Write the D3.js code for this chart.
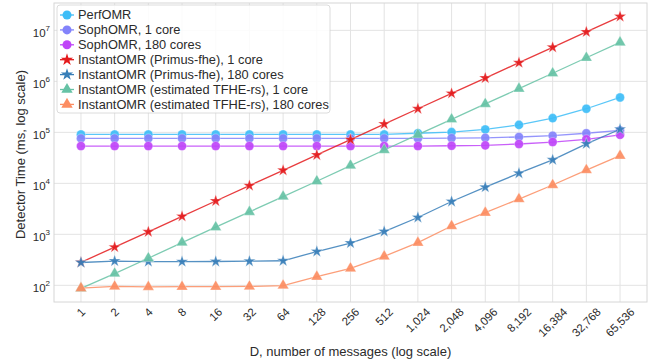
<!DOCTYPE html>
<html>
<head>
<meta charset="utf-8">
<script src="https://cdn.jsdelivr.net/npm/d3@7"></script>
<style>
  body { margin: 0; background: #fff; }
  text { font-family: Arial, "Liberation Sans", sans-serif; fill: #2b2b2b; }
</style>
</head>
<body>
<div id="chart"></div>
<script>
// number of messages D (x axis)
var messages = [1, 2, 4, 8, 16, 32, 64, 128, 256, 512, 1024, 2048, 4096, 8192, 16384, 32768, 65536];

// detector time in ms, one array per series
var perfOMR = [91000, 91000, 91000, 91000, 91000, 91000, 91000, 91000, 91000, 91000, 96000, 101000, 114000, 140000, 190000, 290000, 483000];
var sophOMR1 = [76000, 76000, 76000, 76000, 76000, 76000, 76000, 76000, 76000, 76000, 76000, 77000, 78000, 81000, 86000, 96000, 109000];
var sophOMR180 = [53800, 53800, 53800, 53800, 53800, 53800, 53800, 53800, 53800, 53800, 53800, 54500, 55500, 59000, 64500, 73000, 89500];
var primus1 = [283, 560, 1120, 2250, 4500, 9000, 18000, 36000, 72000, 145000, 290000, 580000, 1160000, 2320000, 4650000, 9300000, 18600000];
var primus180 = [280, 299, 291, 291, 293, 297, 303, 460, 673, 1135, 2140, 4400, 8400, 15800, 28900, 59400, 115000];
var tfhe1 = [87, 170, 340, 690, 1380, 2750, 5500, 11000, 22300, 45000, 90000, 180000, 360000, 720000, 1440000, 2900000, 5800000];
var tfhe180 = [88, 95, 93, 94, 94, 95, 99, 148, 215, 370, 687, 1455, 2660, 4920, 9270, 18200, 34800];

var seriesNames = [
  "PerfOMR",
  "SophOMR, 1 core",
  "SophOMR, 180 cores",
  "InstantOMR (Primus-fhe), 1 core",
  "InstantOMR (Primus-fhe), 180 cores",
  "InstantOMR (estimated TFHE-rs), 1 core",
  "InstantOMR (estimated TFHE-rs), 180 cores"
];
var seriesValues = [perfOMR, sophOMR1, sophOMR180, primus1, primus180, tfhe1, tfhe180];
var seriesColors = ["#3dbdf7", "#8383fb", "#bf44f8", "#e41a1c", "#377eb8", "#66c2a5", "#fc8d62"];
var seriesShapes = [d3.symbolCircle, d3.symbolCircle, d3.symbolCircle, d3.symbolStar, d3.symbolStar, d3.symbolTriangle, d3.symbolTriangle];
var shapeSizes = [64, 64, 64, 46, 46, 56, 56];

var yTicks = [2, 3, 4, 5, 6, 7]; // exponents of 10

var series = seriesNames.map(function(name, i) {
  return {
    name: name,
    color: seriesColors[i],
    shape: seriesShapes[i],
    size: shapeSizes[i],
    points: messages.map(function(m, j) { return {x: m, y: seriesValues[i][j]}; })
  };
});

// set the dimensions and margins of the graph
var margin = {top: 3, right: 7, bottom: 62, left: 54},
    width = 654 - margin.left - margin.right,
    height = 364 - margin.top - margin.bottom;

var svg = d3.select("#chart")
  .append("svg")
    .attr("width", width + margin.left + margin.right)
    .attr("height", height + margin.top + margin.bottom)
  .append("g")
    .attr("transform", "translate(" + margin.left + "," + margin.top + ")");

// x: log2 with 5% margins like matplotlib
var lx0 = Math.log2(d3.min(messages)), lx1 = Math.log2(d3.max(messages));
var padX = (lx1 - lx0) * 0.05;
var x = d3.scaleLog().base(2)
  .domain([Math.pow(2, lx0 - padX), Math.pow(2, lx1 + padX)])
  .range([0, width]);

// y: log10 with 5% margins
var allVals = d3.merge(seriesValues);
var ly0 = Math.log10(d3.min(allVals)), ly1 = Math.log10(d3.max(allVals));
var padY = (ly1 - ly0) * 0.05;
var y = d3.scaleLog()
  .domain([Math.pow(10, ly0 - padY), Math.pow(10, ly1 + padY)])
  .range([height, 0]);

// grid
svg.append("g").selectAll("line")
  .data(messages)
  .enter().append("line")
    .attr("x1", function(d) { return x(d); })
    .attr("x2", function(d) { return x(d); })
    .attr("y1", 0).attr("y2", height)
    .attr("stroke", "#e3e3e3").attr("stroke-width", 1);
svg.append("g").selectAll("line")
  .data(yTicks)
  .enter().append("line")
    .attr("x1", 0).attr("x2", width)
    .attr("y1", function(d) { return y(Math.pow(10, d)); })
    .attr("y2", function(d) { return y(Math.pow(10, d)); })
    .attr("stroke", "#e3e3e3").attr("stroke-width", 1);

// frame
svg.append("rect")
  .attr("x", 0).attr("y", 0)
  .attr("width", width).attr("height", height)
  .attr("fill", "none")
  .attr("stroke", "#d6d6d6");

// y tick labels
var yLab = svg.append("g").selectAll("text")
  .data(yTicks)
  .enter().append("text")
    .attr("x", -4)
    .attr("y", function(d) { return y(Math.pow(10, d)) + 7; })
    .attr("text-anchor", "end")
    .style("font-size", "11.5px");
yLab.append("tspan").text("10");
yLab.append("tspan")
  .attr("dy", -6)
  .style("font-size", "8px")
  .text(function(d) { return d; });

// x tick labels, rotated 45 and centred on the tick
var fmt = d3.format(",");
svg.append("g").selectAll("text")
  .data(messages)
  .enter().append("text")
    .style("font-size", "11.5px")
    .attr("text-anchor", "middle")
    .attr("dy", "0.35em")
    .text(function(d) { return fmt(d); })
    .each(function(d) {
      var w = this.getComputedTextLength();
      var bh = (w + 8) * Math.SQRT1_2;
      d3.select(this).attr("transform",
        "translate(" + x(d) + "," + (height + 5 + bh / 2) + ") rotate(-45)");
    });

// axis titles
svg.append("text")
  .attr("x", width / 2)
  .attr("y", 356 - margin.top)
  .attr("text-anchor", "middle")
  .style("font-size", "13px")
  .text("D, number of messages (log scale)");

svg.append("text")
  .attr("transform", "translate(" + (20 - margin.left) + "," + (height / 2 + 2) + ") rotate(-90)")
  .attr("text-anchor", "middle")
  .attr("dy", "0.35em")
  .style("font-size", "13px")
  .text("Detector Time (ms, log scale)");

// lines and markers
var line = d3.line()
  .x(function(d) { return x(d.x); })
  .y(function(d) { return y(d.y); });

var sg = svg.selectAll(".series")
  .data(series)
  .enter().append("g")
    .attr("class", "series");

sg.append("path")
  .attr("d", function(d) { return line(d.points); })
  .attr("fill", "none")
  .attr("stroke", function(d) { return d.color; })
  .attr("stroke-opacity", 0.85)
  .attr("stroke-width", 1.3);

sg.each(function(s) {
  d3.select(this).selectAll(".pt")
    .data(s.points)
    .enter().append("path")
      .attr("class", "pt")
      .attr("d", d3.symbol().type(s.shape).size(s.size))
      .attr("transform", function(d) { return "translate(" + x(d.x) + "," + y(d.y) + ")"; })
      .attr("fill", s.color)
      .attr("fill-opacity", 0.92)
      .attr("stroke", "#ffffff")
      .attr("stroke-opacity", 0.5)
      .attr("stroke-width", 0.6);
});

// legend
var lg = svg.append("g").attr("transform", "translate(" + (57 - margin.left) + "," + (5 - margin.top) + ")");
lg.append("rect")
  .attr("width", 273).attr("height", 108)
  .attr("rx", 3)
  .attr("fill", "#ffffff").attr("fill-opacity", 0.85)
  .attr("stroke", "#d3d3d3").attr("stroke-width", 0.8);

var li = lg.selectAll(".li")
  .data(series)
  .enter().append("g")
    .attr("class", "li")
    .attr("transform", function(d, i) { return "translate(0," + (10 + i * 14.9) + ")"; });
li.append("line")
  .attr("x1", 3).attr("x2", 17)
  .attr("stroke", function(d) { return d.color; })
  .attr("stroke-width", 1.3);
li.append("path")
  .attr("transform", "translate(10,0)")
  .attr("d", function(d) { return d3.symbol().type(d.shape).size(d.size)(); })
  .attr("fill", function(d) { return d.color; });
li.append("text")
  .attr("x", 21)
  .attr("dy", "0.35em")
  .style("font-size", "12.8px")
  .text(function(d) { return d.name; });
</script>
</body>
</html>
